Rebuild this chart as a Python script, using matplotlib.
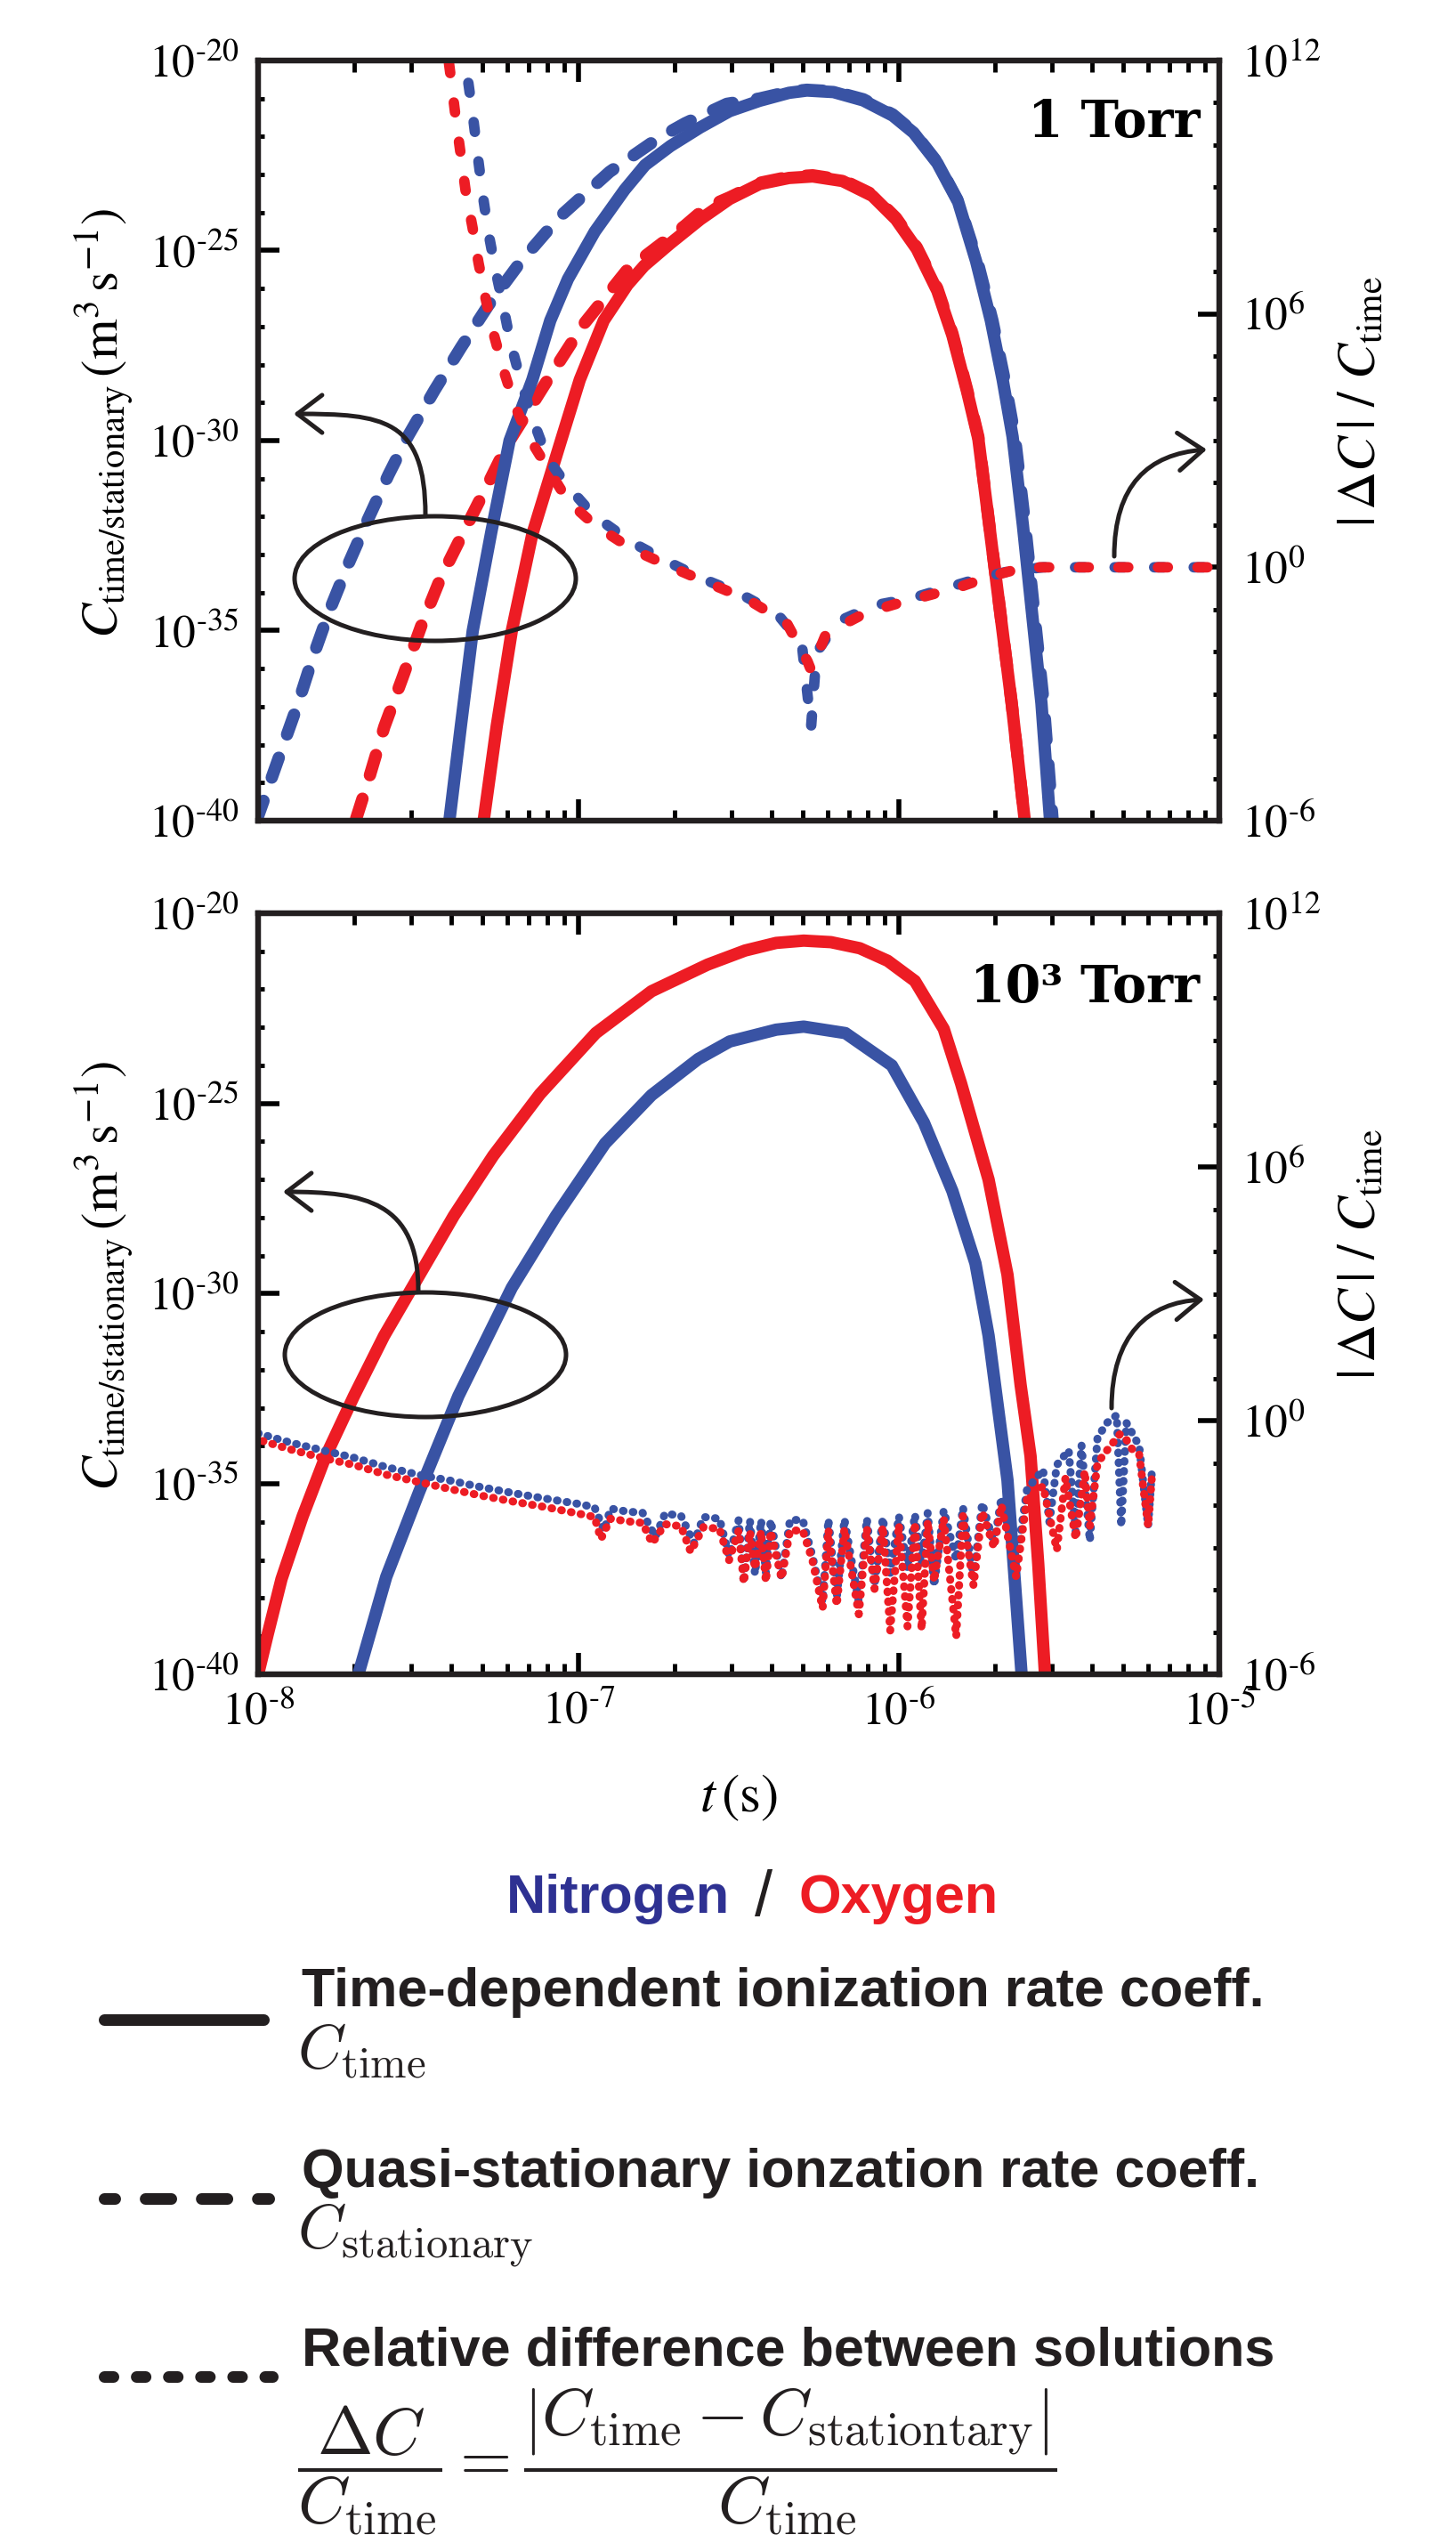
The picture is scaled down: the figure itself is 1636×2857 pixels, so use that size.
import numpy as np
import matplotlib
matplotlib.use("Agg")
import matplotlib.pyplot as plt
import matplotlib.ticker as mticker
import matplotlib.transforms as mtransforms
from matplotlib.patches import Ellipse, FancyArrowPatch, ArrowStyle
from matplotlib.path import Path
from matplotlib.lines import Line2D

plt.rcParams['font.family'] = ['Liberation Serif', 'DejaVu Serif']
plt.rcParams['mathtext.fontset'] = 'stix'
plt.rcParams['lines.scale_dashes'] = False

BLUE = '#3953a4'
RED = '#ed1c24'
NAVY = '#2e3192'
HYPHEN = '\u2010'

# ---------------- data: log10(t [s]) and log10 of values ----------------
# 1 Torr, time-dependent rate coefficient
n2_t1 = [-7.403, -7.367, -7.330, -7.272, -7.215, -7.144, -7.088, -7.033, -6.949, -6.856, -6.792,
         -6.713, -6.620, -6.528, -6.435, -6.343, -6.287, -6.204, -6.111, -6.019, -5.954, -5.880,
         -5.815, -5.759, -5.713, -5.676, -5.645, -5.613, -5.584, -5.555, -5.528]
n2_c1 = [-40.0, -37.5, -35.0, -32.4, -30.0, -28.4, -26.84, -25.75, -24.5, -23.4, -22.75,
         -22.25, -21.76, -21.33, -21.06, -20.85, -20.79, -20.83, -21.05, -21.45, -21.9, -22.7,
         -23.72, -25.28, -26.84, -28.4, -29.9, -32.22, -34.57, -36.91, -40.0]
o2_t1 = [-7.296, -7.255, -7.208, -7.144, -7.051, -6.996, -6.921, -6.847, -6.795, -6.713, -6.620,
         -6.528, -6.435, -6.343, -6.269, -6.176, -6.083, -6.009, -5.944, -5.880, -5.833, -5.787,
         -5.752, -5.718, -5.683, -5.648, -5.607]
o2_c1 = [-40.0, -37.5, -35.0, -32.46, -29.9, -28.4, -26.84, -25.9, -25.4, -24.81, -24.18,
         -23.64, -23.25, -23.09, -23.05, -23.17, -23.56, -24.18, -24.96, -26.06, -27.23, -28.71,
         -29.95, -32.22, -34.57, -36.91, -40.0]

# 1 Torr, quasi-stationary rate coefficient
n2s_t1 = [-8.005, -7.931, -7.875, -7.829, -7.778, -7.718, -7.657, -7.593, -7.532, -7.449, -7.366,
          -7.282, -7.181, -7.060, -6.903, -6.750, -6.667, -6.537, -6.435, -6.343, -6.287, -6.204,
          -6.111, -6.019, -5.954, -5.880, -5.815, -5.755, -5.708, -5.670, -5.638, -5.606, -5.577,
          -5.548, -5.520]
n2s_c1 = [-40.0, -38.24, -36.91, -35.7, -34.49, -33.24, -32.07, -30.9, -29.88, -28.67, -27.54,
          -26.45, -25.3, -24.12, -22.93, -22.04, -21.65, -21.14, -21.0, -20.82, -20.77, -20.81,
          -21.02, -21.42, -21.88, -22.68, -23.7, -25.28, -26.84, -28.4, -29.9, -32.22, -34.57,
          -36.91, -40.0]
o2s_t1 = [-7.694, -7.653, -7.606, -7.551, -7.491, -7.431, -7.357, -7.282, -7.218, -7.102, -6.986,
          -6.847, -6.667, -6.602, -6.528, -6.435, -6.343, -6.269, -6.176, -6.083, -6.009, -5.944,
          -5.880, -5.833, -5.787, -5.752, -5.718, -5.683, -5.648, -5.607]
o2s_c1 = [-39.95, -38.86, -37.53, -36.28, -34.88, -33.63, -32.38, -31.13, -30.04, -28.48, -26.96,
          -25.5, -24.34, -23.87, -23.6, -23.22, -23.06, -23.02, -23.14, -23.52, -24.14, -24.92,
          -26.0, -27.18, -28.66, -29.9, -32.2, -34.55, -36.9, -40.0]

# 1 Torr, relative difference |dC|/C_time (right axis)
n2d_t1 = [-7.360, -7.345, -7.329, -7.315, -7.299, -7.281, -7.259, -7.236, -7.213, -7.181, -7.144,
          -7.097, -7.037, -6.954, -6.838, -6.718, -6.613, -6.490, -6.379, -6.303, -6.274, -6.257,
          -6.192, -6.075, -5.958, -5.847, -5.753, -5.654, -5.549, -5.0]
n2d_r1 = [12.4, 11.54, 10.66, 9.78, 8.83, 7.92, 7.04, 6.23, 5.35, 4.44, 3.53,
          2.58, 1.95, 1.24, 0.61, 0.12, -0.27, -0.65, -1.11, -1.81, -3.78, -2.02,
          -1.29, -0.9, -0.73, -0.48, -0.27, -0.09, 0.0, 0.0]
o2d_t1 = [-7.412, -7.398, -7.384, -7.367, -7.352, -7.331, -7.312, -7.290, -7.266, -7.236, -7.199,
          -7.157, -7.032, -6.949, -6.833, -6.712, -6.595, -6.472, -6.350, -6.285, -6.274, -6.227,
          -6.104, -6.010, -5.900, -5.800, -5.707, -5.607, -5.0]
o2d_r1 = [12.4, 11.57, 10.69, 9.74, 8.90, 8.06, 7.21, 6.37, 5.56, 4.72, 3.84,
          3.10, 1.56, 1.00, 0.43, 0.01, -0.37, -0.76, -1.32, -2.23, -2.44, -1.57,
          -1.08, -0.87, -0.65, -0.44, -0.20, 0.0, 0.0]

# 10^3 Torr, time-dependent rate coefficient
o2_t3 = [-8.0, -7.97, -7.927, -7.861, -7.789, -7.701, -7.607, -7.498, -7.389, -7.266, -7.12,
         -6.946, -6.772, -6.597, -6.48, -6.383, -6.297, -6.212, -6.122, -6.035, -5.95, -5.86,
         -5.806, -5.72, -5.661, -5.62, -5.589, -5.565, -5.544]
o2_c3 = [-40.0, -38.95, -37.5, -35.85, -34.27, -32.69, -31.11, -29.53, -27.95, -26.37, -24.75,
         -23.15, -22.05, -21.35, -20.98, -20.78, -20.72, -20.76, -20.92, -21.25, -21.78, -23.04,
         -24.47, -27.0, -29.5, -32.4, -34.27, -37.1, -40.0]
n2_t3 = [-7.687, -7.6, -7.498, -7.375, -7.208, -7.07, -6.917, -6.772, -6.626, -6.528, -6.383,
         -6.297, -6.167, -6.022, -5.922, -5.833, -5.761, -5.72, -5.661, -5.617]
n2_c3 = [-40.0, -37.44, -35.22, -32.69, -29.84, -27.95, -26.05, -24.78, -23.83, -23.37, -23.06,
         -22.98, -23.15, -24.0, -25.5, -27.3, -29.2, -31.1, -34.9, -40.0]

# 10^3 Torr, relative difference (noisy, right axis)
n2d_t3 = [-8.00, -7.90, -7.80, -7.70, -7.60, -7.50, -7.40, -7.30, -7.20, -7.10, -7.00, -6.95,
          -6.92, -6.90, -6.85, -6.80, -6.76, -6.73, -6.68, -6.64, -6.61, -6.56, -6.53, -6.50,
          -6.484, -6.465, -6.449, -6.43, -6.415, -6.40, -6.366, -6.34, -6.30, -6.27, -6.238,
          -6.22, -6.194, -6.17, -6.125, -6.10, -6.076, -6.05, -6.027, -6.00, -5.973, -5.95,
          -5.929, -5.91, -5.89, -5.86, -5.821, -5.80, -5.767, -5.74, -5.703, -5.68, -5.634,
          -5.60, -5.55, -5.53, -5.507, -5.47, -5.448, -5.43, -5.404, -5.38, -5.35, -5.32,
          -5.306, -5.29, -5.27, -5.25, -5.222, -5.21]
n2d_r3 = [-0.30, -0.52, -0.70, -0.88, -1.10, -1.28, -1.42, -1.58, -1.72, -1.85, -1.97, -2.05,
          -2.6, -2.08, -2.15, -2.18, -2.75, -2.20, -2.25, -2.9, -2.28, -2.32, -3.2, -2.35,
          -3.84, -2.36, -3.63, -2.36, -3.6, -2.36, -3.74, -2.35, -2.35, -3.2, -4.3,
          -2.34, -4.2, -2.33, -4.3, -2.32, -3.9, -2.30, -3.6, -2.26, -3.5, -2.22,
          -3.4, -2.18, -3.91, -2.12, -3.3, -2.05, -3.7, -1.95, -2.92, -1.82, -3.4,
          -1.62, -1.16, -2.4, -1.05, -0.70, -2.64, -0.58, -2.85, -0.40, -0.05, 0.13,
          -2.5, -0.05, -0.32, -0.60, -2.5, -1.16]
o2d_t3 = [-8.00, -7.90, -7.80, -7.70, -7.60, -7.50, -7.40, -7.30, -7.20, -7.10, -7.00, -6.95,
          -6.93, -6.90, -6.85, -6.80, -6.77, -6.73, -6.68, -6.65, -6.61, -6.56, -6.53, -6.50,
          -6.484, -6.465, -6.449, -6.43, -6.415, -6.40, -6.366, -6.34, -6.30, -6.27, -6.238,
          -6.22, -6.194, -6.17, -6.125, -6.10, -6.076, -6.05, -6.027, -6.00, -5.973, -5.95,
          -5.929, -5.91, -5.89, -5.86, -5.821, -5.80, -5.767, -5.74, -5.703, -5.68, -5.634,
          -5.60, -5.55, -5.507, -5.48, -5.448, -5.42, -5.404, -5.38, -5.34, -5.31, -5.29,
          -5.27, -5.25, -5.222, -5.21]
o2d_r3 = [-0.45, -0.68, -0.88, -1.05, -1.28, -1.45, -1.62, -1.78, -1.92, -2.05, -2.20, -2.28,
          -2.8, -2.32, -2.38, -2.42, -2.9, -2.45, -2.50, -3.1, -2.52, -2.56, -3.3, -2.60,
          -3.84, -2.62, -3.5, -2.62, -3.81, -2.62, -3.74, -2.60, -2.60, -3.3, -4.44,
          -2.58, -4.37, -2.56, -4.58, -2.54, -3.98, -2.50, -4.97, -2.46, -4.87, -2.42,
          -4.94, -2.38, -3.8, -2.32, -5.11, -2.26, -3.9, -2.16, -3.0, -2.00, -3.70,
          -1.85, -1.55, -3.06, -1.35, -2.8, -1.20, -2.5, -1.00, -0.60, -0.32, -0.45,
          -0.70, -0.80, -2.5, -1.30]

left_major = [-40, -35, -30, -25, -20]
right_major = [-6, 0, 6, 12]


def p10(a):
    return 10.0 ** np.asarray(a)


W, H = 1636, 2857
fig = plt.figure(figsize=(W / 100, H / 100), dpi=100)
px = mtransforms.Affine2D().scale(1.0 / W, -1.0 / H).translate(0, 1) + fig.transFigure

ax_top = fig.add_axes([290 / W, 1 - 922 / H, 1080 / W, 854 / H])
ax_bot = fig.add_axes([290 / W, 1 - 1881 / H, 1080 / W, 855 / H])


def dec_fmt(v, pos):
    e = int(round(np.log10(v)))
    if e < 0:
        return '$10^{' + HYPHEN + str(-e) + '}$'
    return '$10^{' + str(e) + '}$'


def style(ax, show_x):
    axr = ax.twinx()
    ax.set_xscale('log')
    ax.set_yscale('log')
    axr.set_yscale('log')
    ax.set_xlim(1e-8, 1e-5)
    ax.set_ylim(1e-40, 1e-20)
    axr.set_ylim(1e-6, 1e12)

    ax.xaxis.set_major_locator(mticker.FixedLocator(p10([-8, -7, -6, -5])))
    ax.xaxis.set_minor_locator(mticker.LogLocator(base=10, subs=np.arange(2, 10), numticks=20))
    ax.xaxis.set_major_formatter(mticker.FuncFormatter(dec_fmt))
    ax.xaxis.set_minor_formatter(mticker.NullFormatter())
    ax.yaxis.set_major_locator(mticker.FixedLocator(p10(left_major)))
    ax.yaxis.set_minor_locator(mticker.FixedLocator(p10(np.arange(-40, -19))))
    ax.yaxis.set_major_formatter(mticker.FuncFormatter(dec_fmt))
    ax.yaxis.set_minor_formatter(mticker.NullFormatter())
    axr.yaxis.set_major_locator(mticker.FixedLocator(p10(right_major)))
    axr.yaxis.set_minor_locator(mticker.FixedLocator(p10(np.arange(-6, 13))))
    axr.yaxis.set_major_formatter(mticker.FuncFormatter(dec_fmt))
    axr.yaxis.set_minor_formatter(mticker.NullFormatter())

    ax.tick_params(axis='x', which='major', direction='in', length=17, width=4,
                   top=True, bottom=True, labelsize=37, pad=14, labelbottom=show_x)
    ax.tick_params(axis='x', which='minor', direction='in', length=9, width=3.5,
                   top=True, bottom=True)
    ax.tick_params(axis='y', which='major', direction='in', length=17, width=4,
                   left=True, right=False, labelsize=37, pad=16)
    ax.tick_params(axis='y', which='minor', direction='in', length=5, width=3.5,
                   left=True, right=False)
    axr.tick_params(axis='y', which='major', direction='in', length=17, width=4,
                    left=False, right=True, labelsize=37, pad=18)
    axr.tick_params(axis='y', which='minor', direction='in', length=5, width=3.5,
                    left=False, right=True)
    for a in (ax, axr):
        for s in a.spines.values():
            s.set_linewidth(4.5)
            s.set_color('#231f20')

    ax.set_ylabel(r'$C_{\mathrm{time/stationary}}\,\left(\mathrm{m}^{3}\,\mathrm{s}^{-1}\right)$',
                  fontsize=42)
    ax.yaxis.set_label_coords(-0.128, 0.523)
    axr.set_ylabel(r'$|\,\Delta C\,|\ /\ C_{\mathrm{time}}$', fontsize=43)
    axr.yaxis.set_label_coords(1.124, 0.552)
    return axr


axr_top = style(ax_top, False)
axr_bot = style(ax_bot, True)

LW = 10
dash = (0, (17, 20))

# 1 Torr
ax_top.plot(p10(n2s_t1), p10(n2s_c1), color=BLUE, lw=LW, linestyle=dash, dash_capstyle='round')
ax_top.plot(p10(o2s_t1), p10(o2s_c1), color=RED, lw=LW, linestyle=dash, dash_capstyle='round')
ax_top.plot(p10(n2_t1), p10(n2_c1), color=BLUE, lw=LW, solid_capstyle='butt')
ax_top.plot(p10(o2_t1), p10(o2_c1), color=RED, lw=LW, solid_capstyle='butt')
axr_top.plot(p10(n2d_t1), p10(n2d_r1), color=BLUE, lw=8.5, linestyle=(0, (8, 24)),
             dash_capstyle='round')
axr_top.plot(p10(o2d_t1), p10(o2d_r1), color=RED, lw=8.5, linestyle=(16, (8, 24)),
             dash_capstyle='round')

# 10^3 Torr
ax_bot.plot(p10(o2_t3), p10(o2_c3), color=RED, lw=LW, solid_capstyle='butt')
ax_bot.plot(p10(n2_t3), p10(n2_c3), color=BLUE, lw=LW, solid_capstyle='butt')
axr_bot.plot(p10(n2d_t3), p10(n2d_r3), color=BLUE, lw=6.5, linestyle=(0, (0.5, 7.5)),
             dash_capstyle='round')
axr_bot.plot(p10(o2d_t3), p10(o2d_r3), color=RED, lw=6.5, linestyle=(4, (0.5, 7.5)),
             dash_capstyle='round')

ax_bot.set_xlabel(r'$t\,(\mathrm{s})$', fontsize=44)
ax_bot.xaxis.set_label_coords(0.5, -0.13)

axr_top.text(0.98, 0.951, '1 Torr', transform=ax_top.transAxes, ha='right', va='top',
             fontsize=41, fontweight='bold', family=['DejaVu Serif'])
axr_bot.text(0.98, 0.935, '10\u00b3 Torr', transform=ax_bot.transAxes, ha='right', va='top',
             fontsize=41, fontweight='bold', family=['DejaVu Serif'])

# annotations (ellipses + curved arrows), figure pixel coordinates
for cx, cy in [(489, 650), (478, 1522)]:
    fig.add_artist(Ellipse((cx, cy), 316, 140, transform=px, fill=False, lw=3.6, color='#231f20'))

arrows = [
    [(478, 579), (478, 470), (430, 465), (330, 465)],
    [(1252, 625), (1252, 545), (1290, 510), (1356, 505)],
    [(470, 1450), (470, 1350), (410, 1339), (318, 1339)],
    [(1249, 1582), (1249, 1500), (1290, 1463), (1353, 1460)],
]
for verts in arrows:
    path = Path(verts, [Path.MOVETO, Path.CURVE4, Path.CURVE4, Path.CURVE4])
    fig.add_artist(FancyArrowPatch(path=path, transform=px, color='#231f20', lw=3.6,
                                   arrowstyle=ArrowStyle('->', head_length=0.5, head_width=0.38),
                                   mutation_scale=40, shrinkA=0, shrinkB=0))

# legend block
sans = ['Liberation Sans', 'DejaVu Sans']
fig.text(820, 2149, 'Nitrogen', transform=px, ha='right', va='baseline', fontsize=44,
         fontweight='bold', color=NAVY, family=sans)
fig.text(858, 2152, '/', transform=px, ha='center', va='baseline', fontsize=52, color='#231f20',
         family=sans)
fig.text(897, 2149, 'Oxygen', transform=px, ha='left', va='baseline', fontsize=44,
         fontweight='bold', color=RED, family=sans)

LLW = 9.4
fig.add_artist(Line2D([117, 296], [2269, 2269], transform=px, color='#231f20', lw=LLW,
                      solid_capstyle='round'))
fig.add_artist(Line2D([116.5, 301.5], [2470, 2470], transform=px, color='#231f20', lw=LLW,
                      linestyle=(12.2, (20.8, 24.6)), dash_capstyle='round'))
fig.add_artist(Line2D([117, 306], [2670, 2670], transform=px, color='#231f20', lw=LLW,
                      linestyle=(0, (7.2, 18.8)), dash_capstyle='round'))

entries = [
    (2254, 'Time-dependent ionization rate coeff.', 2324, r'$C_{\mathrm{time}}$'),
    (2457, 'Quasi-stationary ionzation rate coeff.', 2527, r'$C_{\mathrm{stationary}}$'),
]
for yb, label, ym, sym in entries:
    fig.text(339, yb, label, transform=px, ha='left', va='baseline', fontsize=44,
             fontweight='bold', color='#231f20', family=sans)
    fig.text(334, ym, sym, transform=px, ha='left', va='baseline', fontsize=50,
             color='#231f20', math_fontfamily='cm')

fig.text(339, 2657, 'Relative difference between solutions', transform=px, ha='left',
         va='baseline', fontsize=44, fontweight='bold', color='#231f20', family=sans)
fig.text(334, 2766,
         r'$\dfrac{\Delta C}{C_{\mathrm{time}}} = '
         r'\dfrac{\left|C_{\mathrm{time}} - C_{\mathrm{stationtary}}\right|}{C_{\mathrm{time}}}$',
         transform=px, ha='left', va='center', fontsize=54, color='#231f20',
         math_fontfamily='cm')

fig.savefig('out.png', dpi=100)
